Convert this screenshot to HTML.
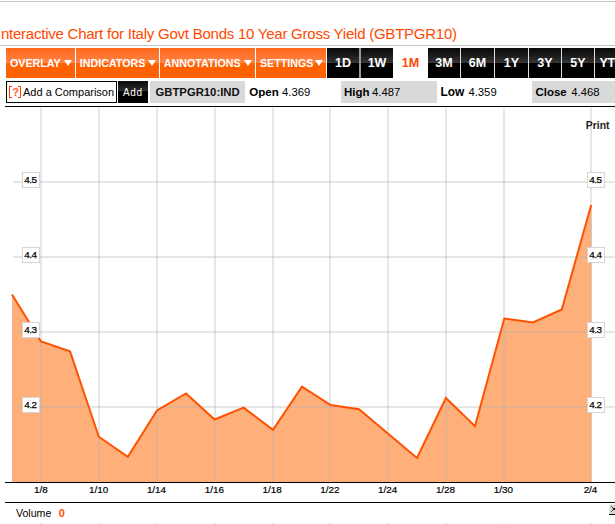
<!DOCTYPE html>
<html><head><meta charset="utf-8">
<style>
*{margin:0;padding:0;box-sizing:border-box}
html,body{width:615px;height:524px;overflow:hidden;background:#fff;font-family:"Liberation Sans",sans-serif}
.a{position:absolute;white-space:nowrap}
.hl{position:absolute;left:0;width:615px;height:1px}
.ob{position:absolute;top:48px;height:30px;background:linear-gradient(#ff6414 0,#ff6a1e 1px,#ff8040 13px,#ff8a4e 15px,#ff6000 15px,#ff6000 100%);color:#fff;font-weight:bold;font-size:10.7px;line-height:30px}
.ob i{position:absolute;top:11.8px;width:0;height:0;border-left:4px solid transparent;border-right:4px solid transparent;border-top:6.8px solid #fff;margin-left:-1.1px}
.bb{position:absolute;top:48px;height:30px;background:linear-gradient(#0a0a0a 0,#141414 5px,#2a2a2a 12px,#383838 15px,#000 15px,#000 100%);color:#fff;font-weight:bold;font-size:12.5px;line-height:31px;text-align:center}
.gbox{position:absolute;top:81px;height:22px;background:#d9d9d9}
.t11{font-size:11px;line-height:22px;color:#000}
</style></head><body>
<div class="hl" style="top:1px;background:#c4c4c4"></div>
<div class="a" style="left:-3px;top:25px;font-size:15px;letter-spacing:-0.235px;line-height:17px;color:#ff4800">Interactive Chart for Italy Govt Bonds 10 Year Gross Yield (GBTPGR10)</div>
<div class="hl" style="top:45px;background:#c4c4c4"></div>

<div class="ob" style="left:6px;width:69px"><span class="a" style="left:4px">OVERLAY</span><i style="left:59.2px"></i></div>
<div class="ob" style="left:76px;width:83px"><span class="a" style="left:3.8px">INDICATORS</span><i style="left:72.9px"></i></div>
<div class="ob" style="left:160px;width:95px"><span class="a" style="left:3.8px">ANNOTATIONS</span><i style="left:85.2px"></i></div>
<div class="ob" style="left:256px;width:70px"><span class="a" style="left:3.9px">SETTINGS</span><i style="left:60px"></i></div>

<div class="bb" style="left:327px;width:32px">1D</div>
<div class="a" style="left:359px;top:48px;width:2px;height:30px;background:#999"></div>
<div class="bb" style="left:361px;width:32px">1W</div>
<div class="a" style="left:393px;top:48px;width:35px;height:30px;line-height:30px;text-align:center;color:#ff4800;font-weight:bold;font-size:12.5px;line-height:31px">1M</div>
<div class="bb" style="left:428px;width:32px">3M</div>
<div class="a" style="left:460px;top:48px;width:1px;height:30px;background:#ddd"></div>
<div class="bb" style="left:461px;width:33px">6M</div>
<div class="a" style="left:494px;top:48px;width:1px;height:30px;background:#ddd"></div>
<div class="bb" style="left:495px;width:33px">1Y</div>
<div class="a" style="left:528px;top:48px;width:1px;height:30px;background:#ddd"></div>
<div class="bb" style="left:529px;width:32px">3Y</div>
<div class="a" style="left:561px;top:48px;width:1px;height:30px;background:#ddd"></div>
<div class="bb" style="left:562px;width:32px">5Y</div>
<div class="a" style="left:594px;top:48px;width:1px;height:30px;background:#ddd"></div>
<div class="bb" style="left:595px;width:40px;text-align:left;padding-left:4.6px;letter-spacing:-0.5px">YTD</div>

<!-- row 2 -->
<div class="a" style="left:6px;top:81px;width:111px;height:22px;border:1px solid #000;background:#fff"></div>
<div class="a" style="left:9px;top:86px;width:3px;height:12px;border:1px solid #ff4400;border-right:0"></div>
<div class="a" style="left:18px;top:86px;width:3px;height:12px;border:1px solid #ff4400;border-left:0"></div>
<div class="a t11" style="left:12.3px;top:81px;color:#ff6020;font-weight:bold;font-size:11px">?</div>
<div class="a t11" style="left:23px;top:81px">Add a Comparison</div>
<div class="a" style="left:118px;top:81px;width:30px;height:22px;background:linear-gradient(#0c0c0c,#141414 3px,#2e2e2e 10px,#000 10px);color:#fff;font-size:10px;line-height:23px;padding-left:5px;letter-spacing:0.6px">Add</div>
<div class="gbox" style="left:150px;width:95px"></div>
<div class="a t11" style="left:155.5px;top:81px;font-weight:bold;color:#111;font-size:11.3px">GBTPGR10:IND</div>
<div class="a t11" style="left:249.3px;top:81px;font-weight:bold;font-size:11.5px">Open</div>
<div class="a t11" style="left:282px;top:81px;font-size:11.3px">4.369</div>
<div class="gbox" style="left:341px;width:96px"></div>
<div class="a t11" style="left:344px;top:81px;font-weight:bold;font-size:11.5px">High</div>
<div class="a t11" style="left:372px;top:81px;font-size:11.3px">4.487</div>
<div class="a t11" style="left:440.5px;top:81px;font-weight:bold;font-size:11.9px">Low</div>
<div class="a t11" style="left:468.4px;top:81px;font-size:11.3px">4.359</div>
<div class="gbox" style="left:532px;width:83px"></div>
<div class="a t11" style="left:535.4px;top:81px;font-weight:bold;font-size:11.5px">Close</div>
<div class="a t11" style="left:571.3px;top:81px;font-size:11.3px">4.468</div>
<div class="a" style="left:5px;top:106px;width:610px;height:1px;background:#000"></div>

<!-- chart -->
<svg class="a" style="left:0;top:0" width="615" height="524" viewBox="0 0 615 524">
<polygon fill="#ffaf7a" points="12,482 12,294.5 41,341.5 70,351.3 98.8,436.7 127.8,456.8 157,410.4 186,393.4 214.6,419.5 243.6,407.6 273,429.8 302,386.6 330.6,405 359,409.2 417,458 445.9,398 475,426.1 504.3,318.5 533,322.4 561.8,309.5 591.2,205 591.6,205 591.6,482"/>
<g id="grid" stroke="rgba(178,178,178,0.325)" stroke-width="2" fill="none">
<line x1="13" y1="182" x2="615" y2="182"/>
<line x1="13" y1="257" x2="615" y2="257"/>
<line x1="13" y1="332" x2="615" y2="332"/>
<line x1="13" y1="407" x2="615" y2="407"/>
<line x1="41" y1="108" x2="41" y2="481"/>
<line x1="99" y1="108" x2="99" y2="481"/>
<line x1="157" y1="108" x2="157" y2="481"/>
<line x1="215" y1="108" x2="215" y2="481"/>
<line x1="273" y1="108" x2="273" y2="481"/>
<line x1="330" y1="108" x2="330" y2="481"/>
<line x1="388" y1="108" x2="388" y2="481"/>
<line x1="446" y1="108" x2="446" y2="481"/>
<line x1="504" y1="108" x2="504" y2="481"/>
<line x1="591" y1="108" x2="591" y2="481"/>
</g>
<polyline fill="none" stroke="#ff5200" stroke-width="2" stroke-linejoin="miter" points="12,294.5 41,341.5 70,351.3 98.8,436.7 127.8,456.8 157,410.4 186,393.4 214.6,419.5 243.6,407.6 273,429.8 302,386.6 330.6,405 359,409.2 417,458 445.9,398 475,426.1 504.3,318.5 533,322.4 561.8,309.5 591.2,205"/>
<line x1="5" y1="482.5" x2="615" y2="482.5" stroke="#000" stroke-width="1"/>
<line x1="5" y1="502.5" x2="615" y2="502.5" stroke="#000" stroke-width="1"/>
</svg>

<div class="a" style="left:22px;top:172px;width:18px;height:16px;border:1px solid #d6d6d6;background:#fff;font-size:9.9px;line-height:13px;padding-left:1.2px;letter-spacing:-0.5px;-webkit-text-stroke:0.25px #000">4.5</div>
<div class="a" style="left:22px;top:247px;width:18px;height:16px;border:1px solid #d6d6d6;background:#fff;font-size:9.9px;line-height:13px;padding-left:1.2px;letter-spacing:-0.5px;-webkit-text-stroke:0.25px #000">4.4</div>
<div class="a" style="left:22px;top:322px;width:18px;height:16px;border:1px solid #d6d6d6;background:#fff;font-size:9.9px;line-height:13px;padding-left:1.2px;letter-spacing:-0.5px;-webkit-text-stroke:0.25px #000">4.3</div>
<div class="a" style="left:22px;top:397px;width:18px;height:16px;border:1px solid #d6d6d6;background:#fff;font-size:9.9px;line-height:13px;padding-left:1.2px;letter-spacing:-0.5px;-webkit-text-stroke:0.25px #000">4.2</div>
<div class="a" style="left:587px;top:172px;width:18px;height:16px;border:1px solid #d6d6d6;background:#fff;font-size:9.9px;line-height:13px;padding-left:1.2px;letter-spacing:-0.5px;-webkit-text-stroke:0.25px #000">4.5</div>
<div class="a" style="left:587px;top:247px;width:18px;height:16px;border:1px solid #d6d6d6;background:#fff;font-size:9.9px;line-height:13px;padding-left:1.2px;letter-spacing:-0.5px;-webkit-text-stroke:0.25px #000">4.4</div>
<div class="a" style="left:587px;top:322px;width:18px;height:16px;border:1px solid #d6d6d6;background:#fff;font-size:9.9px;line-height:13px;padding-left:1.2px;letter-spacing:-0.5px;-webkit-text-stroke:0.25px #000">4.3</div>
<div class="a" style="left:587px;top:397px;width:18px;height:16px;border:1px solid #d6d6d6;background:#fff;font-size:9.9px;line-height:13px;padding-left:1.2px;letter-spacing:-0.5px;-webkit-text-stroke:0.25px #000">4.2</div>

<div class="a" style="left:585.8px;top:119.6px;font-size:10.4px;font-weight:bold;color:#222">Print</div>

<div class="a" style="left:20.9px;top:484px;width:40px;text-align:center;font-size:9.9px;line-height:11px;-webkit-text-stroke:0.2px #000">1/8</div>
<div class="a" style="left:78.7px;top:484px;width:40px;text-align:center;font-size:9.9px;line-height:11px;-webkit-text-stroke:0.2px #000">1/10</div>
<div class="a" style="left:136.5px;top:484px;width:40px;text-align:center;font-size:9.9px;line-height:11px;-webkit-text-stroke:0.2px #000">1/14</div>
<div class="a" style="left:194.3px;top:484px;width:40px;text-align:center;font-size:9.9px;line-height:11px;-webkit-text-stroke:0.2px #000">1/16</div>
<div class="a" style="left:252.1px;top:484px;width:40px;text-align:center;font-size:9.9px;line-height:11px;-webkit-text-stroke:0.2px #000">1/18</div>
<div class="a" style="left:309.9px;top:484px;width:40px;text-align:center;font-size:9.9px;line-height:11px;-webkit-text-stroke:0.2px #000">1/22</div>
<div class="a" style="left:367.7px;top:484px;width:40px;text-align:center;font-size:9.9px;line-height:11px;-webkit-text-stroke:0.2px #000">1/24</div>
<div class="a" style="left:425.5px;top:484px;width:40px;text-align:center;font-size:9.9px;line-height:11px;-webkit-text-stroke:0.2px #000">1/28</div>
<div class="a" style="left:483.3px;top:484px;width:40px;text-align:center;font-size:9.9px;line-height:11px;-webkit-text-stroke:0.2px #000">1/30</div>
<div class="a" style="left:570.5px;top:484px;width:40px;text-align:center;font-size:9.9px;line-height:11px;-webkit-text-stroke:0.2px #000">2/4</div>

<div class="a" style="left:16px;top:507px;font-size:10.6px;line-height:12px">Volume</div>
<div class="a" style="left:58.8px;top:507px;font-size:11px;line-height:12px;font-weight:bold;color:#ff5000">0</div>
<svg class="a" style="left:600px;top:500px" width="15" height="24" viewBox="600 500 15 24">
<rect x="609" y="504" width="6" height="10" fill="#d6d6d6"/>
<rect x="609" y="504" width="6" height="1" fill="#eee"/>
<rect x="609" y="504" width="1" height="10" fill="#e8e8e8"/>
<rect x="609" y="514" width="6" height="1" fill="#000"/>
<polyline points="611.2,506.3 613.8,509 611.2,511.7" fill="none" stroke="#222" stroke-width="0.9"/>
<rect x="613.5" y="508" width="1.5" height="2" fill="#000"/>
</svg>
<div class="a" style="left:40px;top:523px;width:2px;height:1px;background:#e6e6e6"></div><div class="a" style="left:98px;top:523px;width:2px;height:1px;background:#e6e6e6"></div><div class="a" style="left:156px;top:523px;width:2px;height:1px;background:#e6e6e6"></div><div class="a" style="left:214px;top:523px;width:2px;height:1px;background:#e6e6e6"></div><div class="a" style="left:272px;top:523px;width:2px;height:1px;background:#e6e6e6"></div><div class="a" style="left:329px;top:523px;width:2px;height:1px;background:#e6e6e6"></div><div class="a" style="left:387px;top:523px;width:2px;height:1px;background:#e6e6e6"></div><div class="a" style="left:445px;top:523px;width:2px;height:1px;background:#e6e6e6"></div><div class="a" style="left:503px;top:523px;width:2px;height:1px;background:#e6e6e6"></div><div class="a" style="left:590px;top:523px;width:2px;height:1px;background:#e6e6e6"></div>
</body></html>
